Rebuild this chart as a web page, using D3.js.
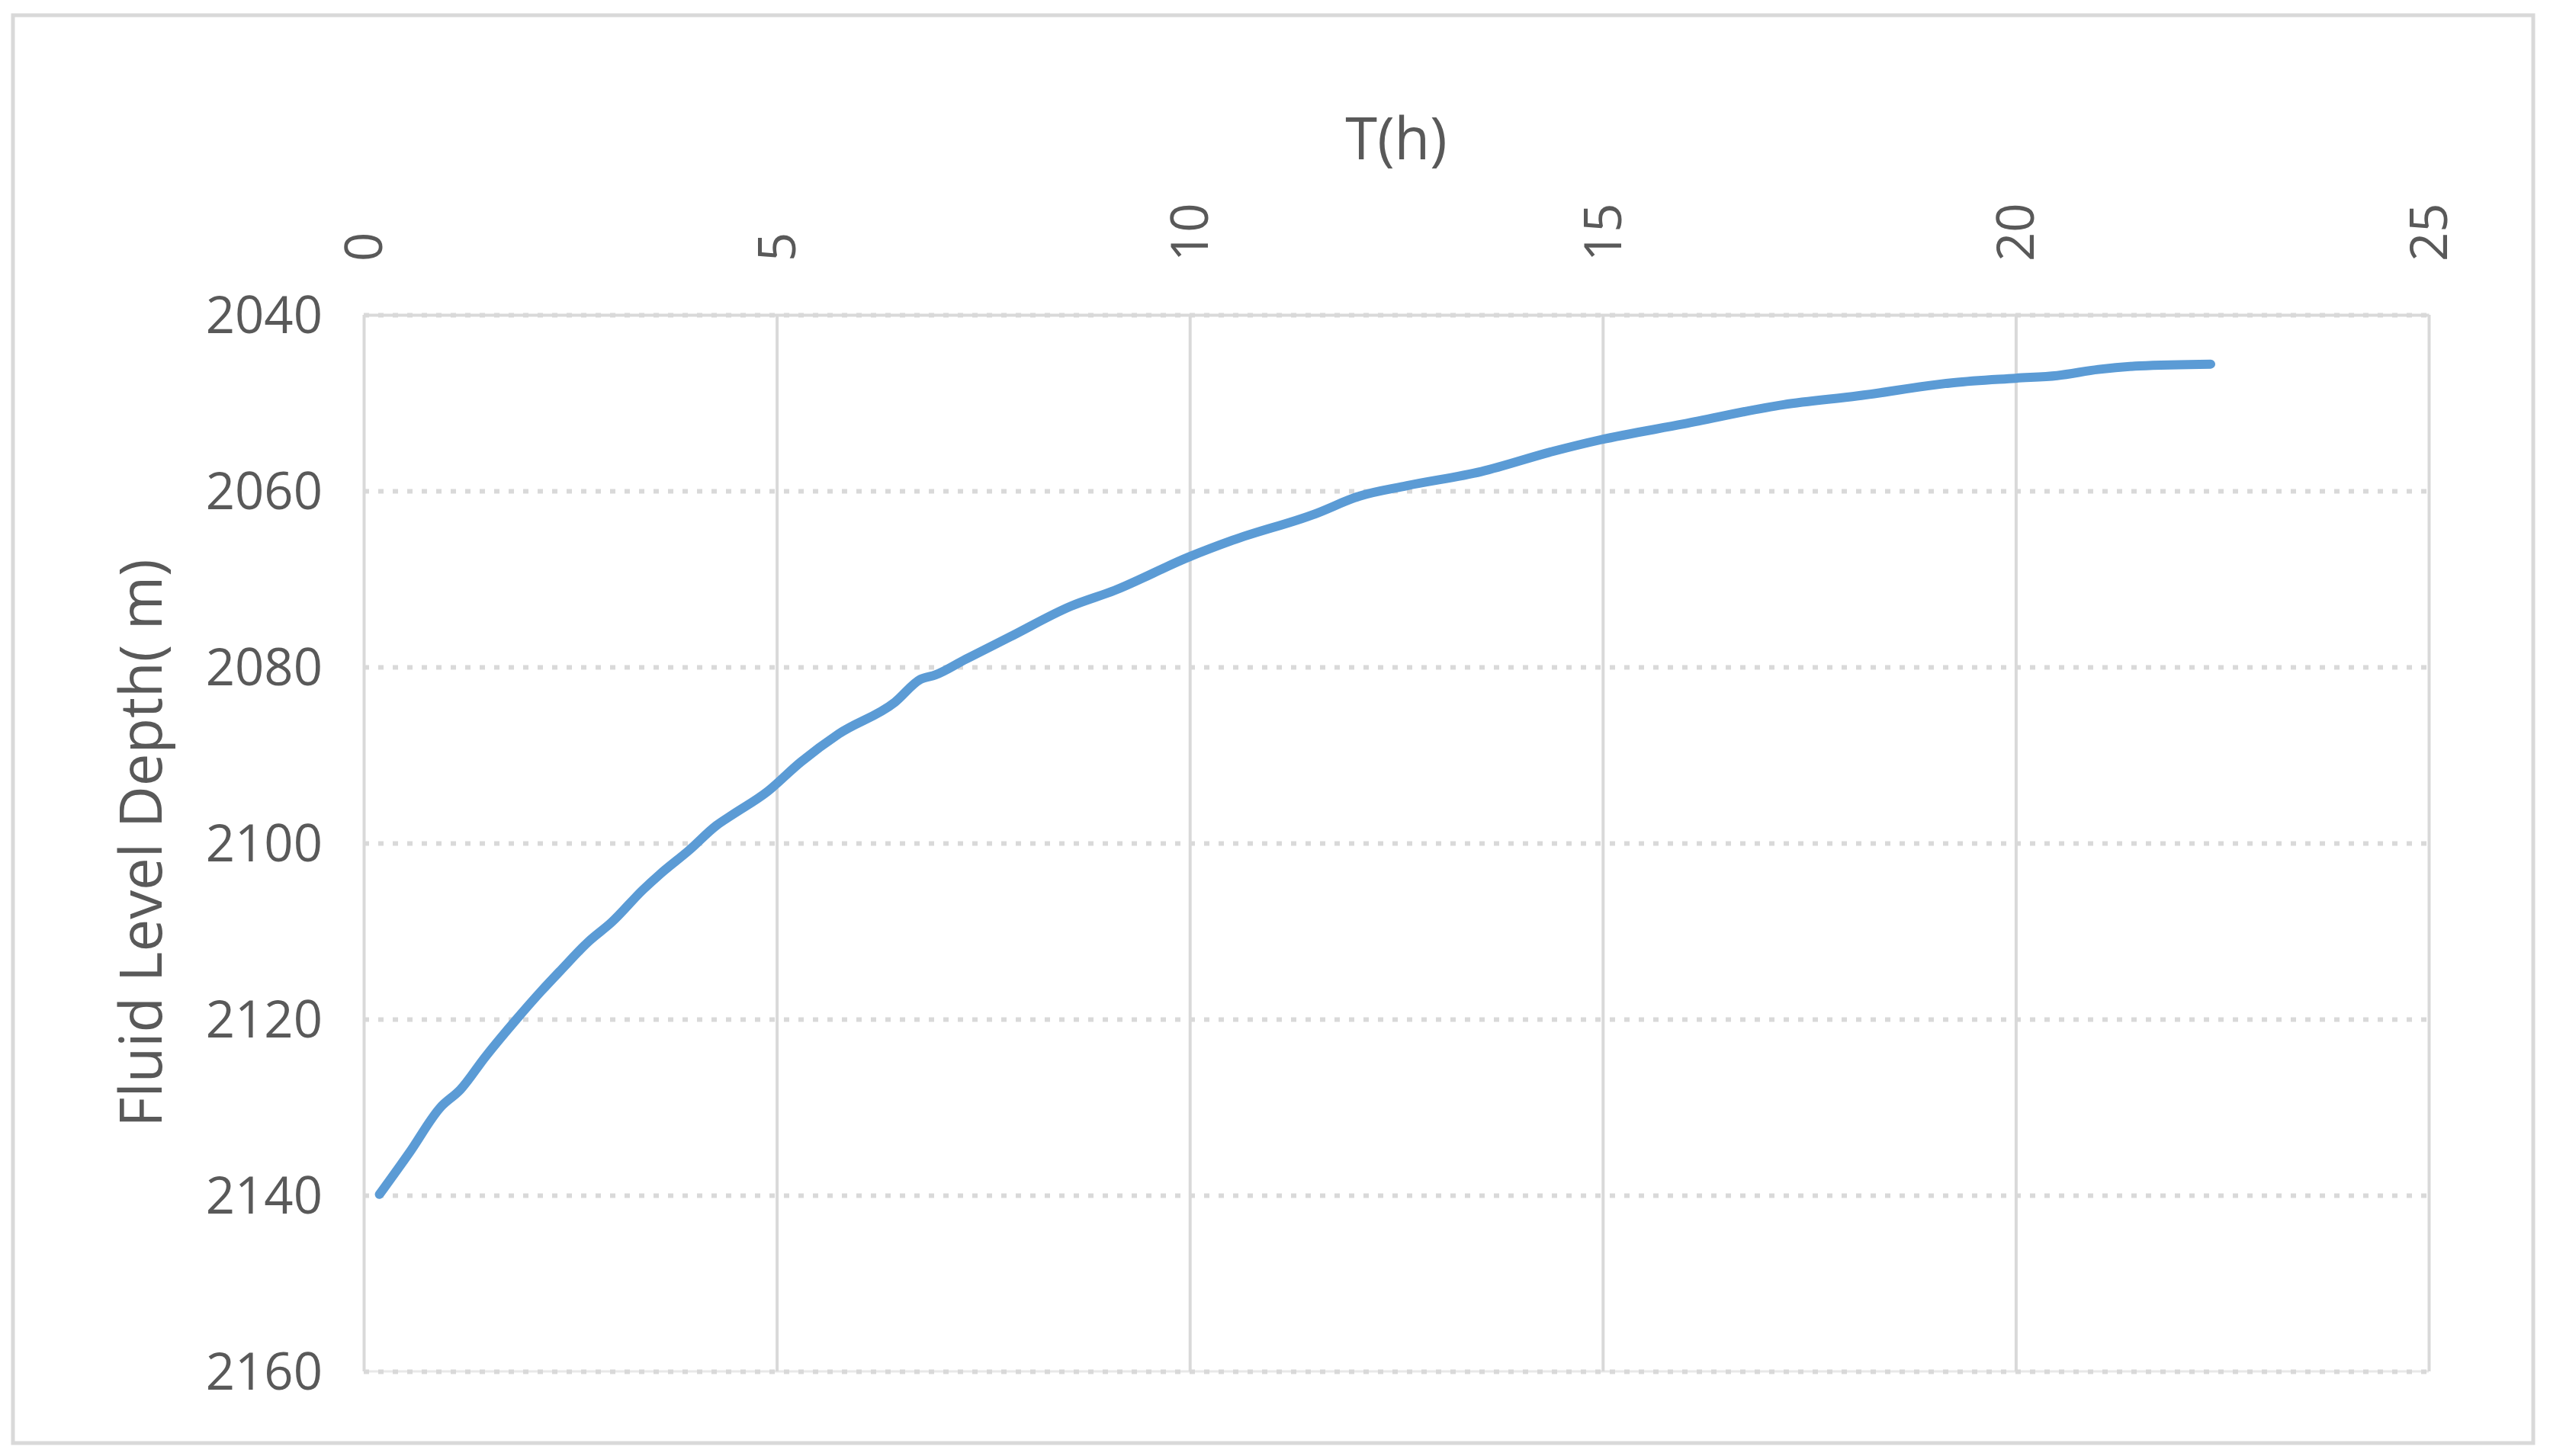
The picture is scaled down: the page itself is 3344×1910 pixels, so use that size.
<!DOCTYPE html>
<html>
<head>
<script src="https://cdn.jsdelivr.net/npm/d3@7"></script>
<style>
  body { margin: 0; background: #fff; }
  svg text { font-family: "Open Sans", sans-serif; }
</style>
</head>
<body>
<svg width="3344" height="1910"></svg>
<script>
// time (h) and fluid level depth (m)
var hours = [0.19, 0.55, 0.93, 1.17, 1.47, 1.85, 2.15, 2.39, 2.72, 3.0, 3.38, 3.59, 3.94, 4.27, 4.46, 4.88,
             5.29, 5.75, 6.43, 6.74, 6.92, 7.29, 7.82, 8.56, 9.09, 9.99, 10.52, 11.52, 12.05, 12.63, 13.53,
             14.4, 14.97, 15.98, 17.19, 18.09, 19.25, 20.0, 20.5, 21.0, 21.5, 22.36];
var depth = [2139.9, 2135.2, 2130, 2128, 2124.3, 2120, 2116.8, 2114.4, 2111.2, 2109, 2105.3, 2103.5, 2100.8, 2098, 2096.8, 2094.2,
             2090.8, 2087.6, 2084, 2081.4, 2080.9, 2079.1, 2076.6, 2073.1, 2071.3, 2067.5, 2065.6, 2062.6, 2060.6, 2059.4, 2057.8,
             2055.5, 2054.2, 2052.4, 2050.2, 2049.2, 2047.7, 2047.2, 2046.9, 2046.2, 2045.8, 2045.6];
var xTicks = [0, 5, 10, 15, 20, 25];
var yTicks = [2040, 2060, 2080, 2100, 2120, 2140, 2160];

var svg = d3.select("svg");
var plotL = 477, plotR = 3185, plotT = 413, plotB = 1799;
var textColor = "#595959", gridColor = "#d9d9d9";

var x = d3.scaleLinear().domain([0, 25]).range([plotL, plotR]);
var y = d3.scaleLinear().domain([2040, 2160]).range([plotT, plotB]);

// chart frame
svg.append("rect")
    .attr("x", 17).attr("y", 20)
    .attr("width", 3305).attr("height", 1873)
    .attr("fill", "#fff")
    .attr("stroke", gridColor)
    .attr("stroke-width", 5);

// faint solid base under the last dotted gridline
svg.append("line")
    .attr("x1", plotL).attr("x2", plotR)
    .attr("y1", y(2160)).attr("y2", y(2160))
    .attr("stroke", "#e8e8e8")
    .attr("stroke-width", 3);

// y axis with dotted horizontal gridlines
var yAxis = svg.append("g")
    .attr("transform", "translate(" + plotL + ",0)")
    .call(d3.axisLeft(y).tickValues(yTicks).tickSize(-(plotR - plotL)).tickPadding(54).tickFormat(d3.format("d")));
yAxis.attr("font-size", 67).attr("font-family", "Open Sans");
yAxis.select(".domain").remove();
yAxis.selectAll(".tick line")
    .attr("stroke", gridColor)
    .attr("stroke-width", 6)
    .attr("stroke-dasharray", "7,12");
yAxis.selectAll(".tick text").attr("fill", textColor).attr("dy", "0.35em");

// x axis on top, solid vertical gridlines, rotated labels
var xAxis = svg.append("g")
    .attr("transform", "translate(0," + plotT + ")")
    .call(d3.axisTop(x).tickValues(xTicks).tickSize(-(plotB - plotT)).tickSizeOuter(0));
xAxis.attr("font-size", 67).attr("font-family", "Open Sans");
xAxis.select(".domain").attr("stroke", gridColor).attr("stroke-width", 4);
xAxis.selectAll(".tick line").attr("stroke", gridColor).attr("stroke-width", 4);
xAxis.selectAll(".tick text")
    .attr("fill", textColor)
    .attr("text-anchor", "start")
    .attr("transform", "rotate(-90)")
    .attr("x", 70)
    .attr("y", 0)
    .attr("dy", "0.35em");

// the curve
var line = d3.line()
    .x(function(d, i) { return x(hours[i]); })
    .y(function(d, i) { return y(depth[i]); })
    .curve(d3.curveMonotoneX);

svg.append("path")
    .datum(hours)
    .attr("d", line)
    .attr("fill", "none")
    .attr("stroke", "#5b9bd5")
    .attr("stroke-width", 12)
    .attr("stroke-linecap", "round")
    .attr("stroke-linejoin", "round");

// axis titles
svg.append("text")
    .attr("x", (plotL + plotR) / 2)
    .attr("y", 209)
    .attr("text-anchor", "middle")
    .attr("font-size", 76)
    .attr("fill", textColor)
    .text("T(h)");

svg.append("text")
    .attr("transform", "translate(212," + (plotT + plotB) / 2 + ") rotate(-90)")
    .attr("text-anchor", "middle")
    .attr("font-size", 76)
    .attr("fill", textColor)
    .text("Fluid Level Depth( m)");
</script>
</body>
</html>
